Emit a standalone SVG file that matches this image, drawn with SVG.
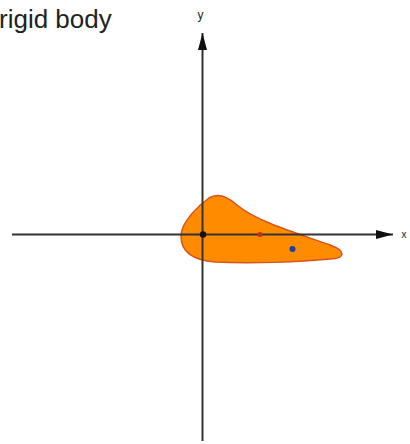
<svg xmlns="http://www.w3.org/2000/svg" width="410" height="444" viewBox="0 0 410 444">
<style>
.axis{stroke:#333;stroke-width:2;fill:none}
.lbl{font-family:"Liberation Sans",Arial,sans-serif;fill:#222}
</style>
<defs>
<marker id="arr" markerWidth="17" markerHeight="9" viewBox="0 0 17 9" refX="17" refY="4.5" markerUnits="userSpaceOnUse" orient="auto">
<path d="M0,0 L17,4.5 L0,9 Z" fill="#111"/>
</marker>
</defs>
<rect width="410" height="444" fill="#fff"/>
<text class="lbl" x="-1" y="28" font-size="26">rigid body</text>
<g id="body">
<path d="M181,236 C181,222 199,205 209,198 C217,193 227,196 237,205 C257,222 300,234 330,245 C346,251 346,258 330,259 C300,262 250,264 215,262 C190,260 181,250 181,236 Z" fill="#ff8c00" stroke="#d9531e" stroke-width="1.5"/>
</g>
<g id="connectors">
<line class="axis" x1="12" y1="234.5" x2="393" y2="234.5" marker-end="url(#arr)"/>
<line class="axis" x1="202.5" y1="441" x2="202.5" y2="33" marker-end="url(#arr)"/>
</g>
<g id="points">
<circle cx="203" cy="234.5" r="3.2" fill="#111"/>
<circle cx="260" cy="234.5" r="2.5" fill="#c0301a"/>
<circle cx="292.5" cy="249" r="3" fill="#1f3fa8"/>
</g>
<text class="lbl" x="401.5" y="237.5" font-size="10">x</text>
<text class="lbl" x="200.5" y="19" font-size="12" text-anchor="middle">y</text>
</svg>
